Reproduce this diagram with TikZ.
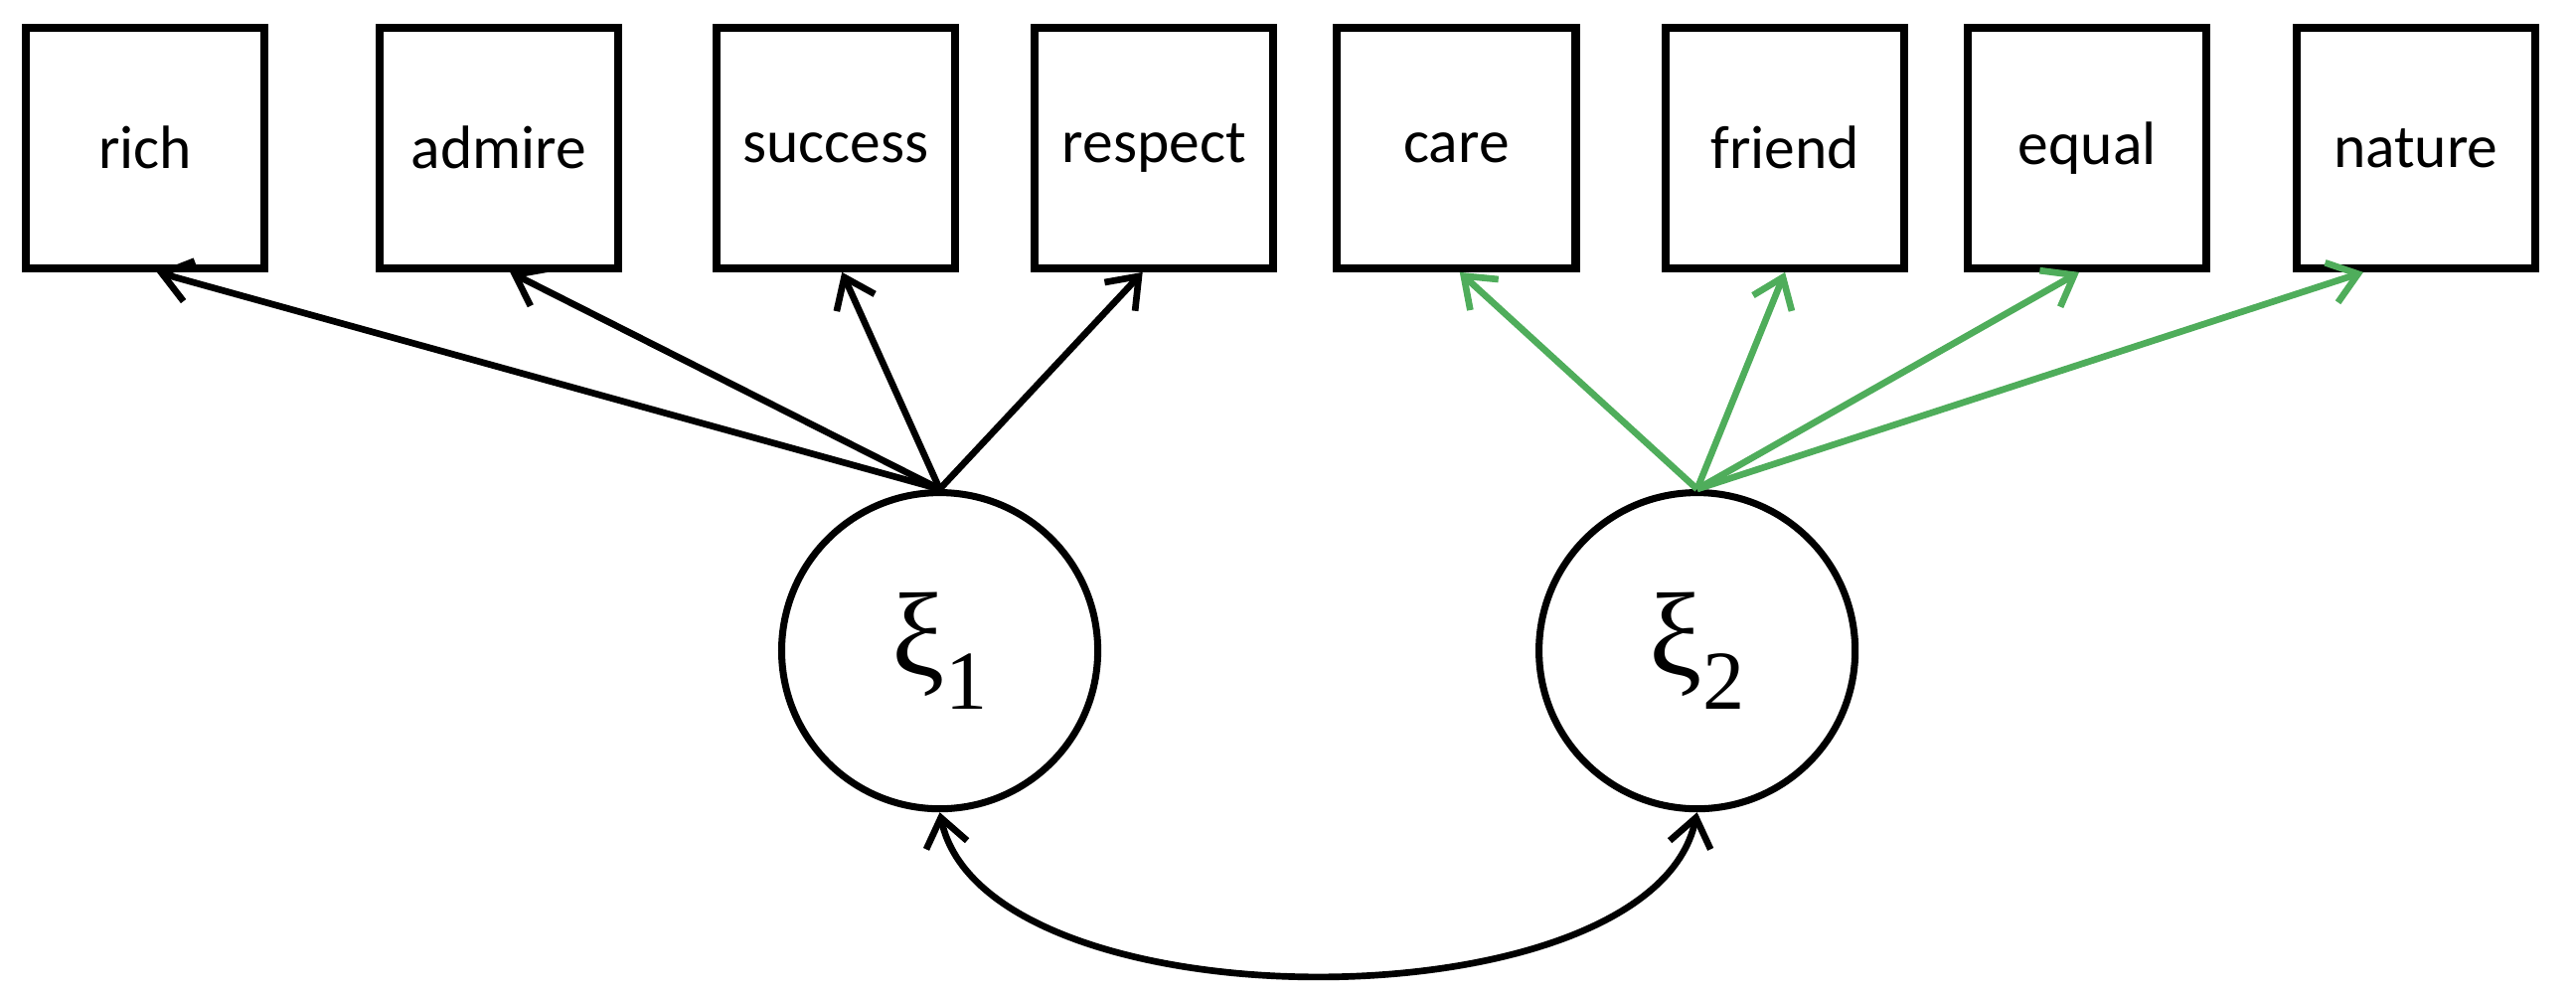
\documentclass[tikz,border=0pt]{standalone}
\usepackage{fontspec}
\setmainfont{Carlito}
\newfontfamily\greekfont{Liberation Serif}
\usetikzlibrary{arrows.meta,calc}
\definecolor{loadgreen}{RGB}{79,173,91}
\tikzstyle{block} = [rectangle, draw, line width=2.3pt,
minimum width=2.40cm, minimum height=2.42cm, font=\fontsize{17.5}{20}\selectfont]
\tikzstyle{latent} = [circle, draw, line width=2pt, minimum size=3.18cm,
inner sep=0pt, font=\greekfont\fontsize{34}{40}\selectfont]
\tikzstyle{line} = [draw, line width=1.9pt, -{Straight Barb[length=0.28cm,width=0.42cm]}]
\tikzstyle{cov} = [draw, line width=1.9pt,
{Straight Barb[length=0.28cm,width=0.42cm]}-{Straight Barb[length=0.28cm,width=0.42cm]}]
\newcommand{\latentname}[1]{ξ\raisebox{-0.28em}{\fontsize{24}{28}\selectfont #1}}

\begin{document}
\begin{tikzpicture}[x=0.01653cm, y=-0.01653cm]
	\useasboundingbox (0,0) rectangle (1568,606);
	% Place nodes
	\node [block] (rich) at (88.5,90) {rich};
	\node [block] (admire) at (303.5,90) {admire};
	\node [block] (success) at (508.5,90) {success};
	\node [block] (respect) at (702.5,90) {respect};
	\node [block] (care) at (886.5,90) {care};
	\node [block] (friend) at (1086.5,90) {friend};
	\node [block] (equal) at (1270.5,90) {equal};
	\node [block] (nature) at (1470.5,90) {nature};
	
	% Place nodes
	\node [latent] (xi1) at (572,396) {\latentname{1}};
	\node [latent] (xi2) at (1033,396) {\latentname{2}};
	
	\path [line] (xi1.north) -- ($(rich.south)+(7,0)$);
	\path [line] (xi1.north) -- ($(admire.south)+(7,0)$);
	\path [line] (xi1.north) -- ($(success.south)+(4,0)$);
	\path [line] (xi1.north) -- ($(respect.south)+(-7,0)$);
	
	\path [line,loadgreen] (xi2.north) -- ($(care.south)+(2,0)$);
	\path [line,loadgreen] (xi2.north) -- (friend.south);
	\path [line,loadgreen] (xi2.north) -- ($(equal.south)+(-5,0)$);
	\path [line,loadgreen] (xi2.north) -- ($(nature.south)+(-32,0)$);
	
	\path [cov] (xi1.south) to[out=-78, in=-102, looseness=0.75] (xi2.south);
\end{tikzpicture}
\end{document}
